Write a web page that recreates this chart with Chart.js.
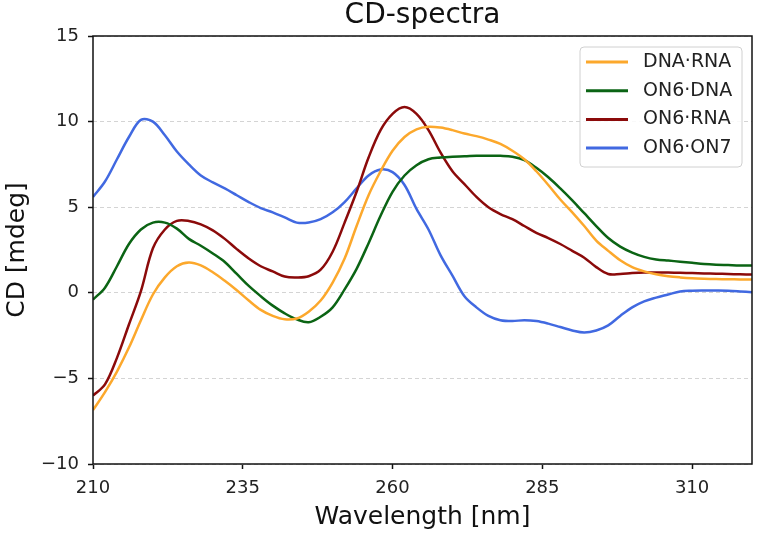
<!DOCTYPE html>
<html>
<head>
<meta charset="utf-8">
<script src="https://cdn.jsdelivr.net/npm/chart.js@4/dist/chart.umd.min.js"></script>
<style>
  html, body { margin: 0; padding: 0; background: #fff; }
  canvas { display: block; }
</style>
</head>
<body>
<canvas id="grafico" width="757" height="535"></canvas>
<script>
// wavelengths in nm (read every 2 nm)
const wavelengths = [210,212,214,216,218,220,222,224,226,228,230,232,234,236,238,240,242,244,246,248,
  250,252,254,256,258,260,262,264,266,268,270,272,274,276,278,280,282,284,286,288,
  290,292,294,296,298,300,302,304,306,308,310,312,314,316,318,320];

const dnaRna = [-6.85,-5.8,-4.6,-3.2,-1.6,-0.1,0.9,1.55,1.77,1.6,1.2,0.7,0.15,-0.45,-1.0,-1.35,-1.55,-1.5,-1.1,-0.45,
  0.6,2.0,3.9,5.7,7.1,8.3,9.1,9.55,9.7,9.65,9.5,9.3,9.15,8.95,8.7,8.3,7.8,7.1,6.3,5.45,
  4.7,3.9,3.05,2.45,1.9,1.5,1.25,1.08,0.97,0.9,0.85,0.82,0.8,0.79,0.78,0.77];

const on6Dna = [-0.4,0.3,1.55,2.85,3.7,4.1,4.1,3.75,3.15,2.75,2.3,1.8,1.1,0.4,-0.2,-0.75,-1.2,-1.55,-1.72,-1.4,
  -0.85,0.2,1.4,2.9,4.5,5.9,6.85,7.45,7.8,7.9,7.95,7.97,8.0,8.01,8.0,7.95,7.75,7.3,6.75,6.1,
  5.4,4.65,3.9,3.2,2.7,2.35,2.1,1.95,1.88,1.82,1.75,1.68,1.64,1.62,1.6,1.6];

const on6Rna = [-6.0,-5.35,-3.8,-1.85,0.1,2.6,3.7,4.2,4.2,4.0,3.65,3.15,2.55,2.0,1.55,1.25,0.95,0.9,0.97,1.35,
  2.4,4.1,5.9,7.9,9.5,10.45,10.85,10.45,9.5,8.2,7.1,6.35,5.6,5.0,4.6,4.3,3.9,3.5,3.2,2.85,
  2.45,2.05,1.5,1.1,1.1,1.15,1.18,1.18,1.18,1.17,1.15,1.13,1.12,1.1,1.08,1.07];

const on6On7 = [5.6,6.5,7.8,9.1,10.1,10.0,9.2,8.25,7.5,6.85,6.45,6.1,5.7,5.3,4.95,4.7,4.4,4.1,4.1,4.3,
  4.7,5.3,6.1,6.85,7.2,7.05,6.3,4.9,3.7,2.2,1.0,-0.2,-0.85,-1.35,-1.6,-1.65,-1.6,-1.65,-1.8,-2.0,
  -2.2,-2.32,-2.2,-1.9,-1.35,-0.85,-0.5,-0.28,-0.1,0.08,0.12,0.13,0.13,0.12,0.08,0.03];

const xTicks = [210, 235, 260, 285, 310];
const yTicks = [-10, -5, 0, 5, 10, 15];

const fonte = '"DejaVu Sans", sans-serif';

const pontos = (valores) => valores.map((v, i) => ({ x: wavelengths[i], y: v }));

const serie = (label, valores, cor) => ({
  label: label,
  data: pontos(valores),
  borderColor: cor,
  backgroundColor: cor,
  borderWidth: 2.5,
  pointRadius: 0,
  tension: 0.35,
  fill: false
});

// moldura preta em volta da area do grafico
const moldura = {
  id: 'moldura',
  afterDatasetsDraw(chart) {
    const { ctx, chartArea: a } = chart;
    ctx.save();
    ctx.strokeStyle = '#111';
    ctx.lineWidth = 1.5;
    ctx.strokeRect(a.left, a.top, a.right - a.left, a.bottom - a.top);
    ctx.restore();
  }
};

// legenda no estilo matplotlib (canto superior direito)
const legendaCaixa = {
  id: 'legendaCaixa',
  afterDraw(chart) {
    const { ctx, chartArea: a } = chart;
    const x = a.right - 172, y = a.top + 11, w = 162, h = 120;
    ctx.save();
    ctx.beginPath();
    ctx.roundRect(x, y, w, h, 4);
    ctx.fillStyle = 'rgba(255,255,255,0.85)';
    ctx.fill();
    ctx.strokeStyle = '#d0d0d0';
    ctx.lineWidth = 1;
    ctx.stroke();
    ctx.font = '19px ' + fonte;
    ctx.textBaseline = 'middle';
    chart.data.datasets.forEach((ds, i) => {
      const cy = y + 15 + i * 28.7;
      ctx.strokeStyle = ds.borderColor;
      ctx.lineWidth = 3;
      ctx.beginPath();
      ctx.moveTo(x + 6, cy);
      ctx.lineTo(x + 48, cy);
      ctx.stroke();
      ctx.fillStyle = '#222';
      ctx.fillText(ds.label, x + 63, cy);
    });
    ctx.restore();
  }
};

const ctx = document.getElementById('grafico').getContext('2d');
new Chart(ctx, {
  type: 'line',
  data: {
    datasets: [
      serie('DNA·RNA', dnaRna, '#fca82c'),
      serie('ON6·DNA', on6Dna, '#0b6414'),
      serie('ON6·RNA', on6Rna, '#8b0a0a'),
      serie('ON6·ON7', on6On7, '#4169e1')
    ]
  },
  options: {
    responsive: false,
    animation: false,
    devicePixelRatio: 1,
    layout: { padding: { top: 0, right: 5, bottom: 0, left: 0 } },
    plugins: {
      legend: { display: false },
      tooltip: { enabled: false },
      title: {
        display: true,
        text: 'CD-spectra',
        fullSize: false,
        color: '#111',
        font: { family: fonte, size: 28, weight: 'normal', lineHeight: 1 },
        padding: { top: 2, bottom: 6 }
      }
    },
    scales: {
      x: {
        type: 'linear',
        min: 210,
        max: 320,
        afterBuildTicks: (scale) => { scale.ticks = xTicks.map(v => ({ value: v })); },
        afterFit: (scale) => { scale.height = 71; },
        ticks: {
          color: '#222',
          padding: 9,
          maxRotation: 0,
          font: { family: fonte, size: 18 }
        },
        grid: {
          drawOnChartArea: false,
          drawTicks: true,
          tickLength: 5,
          tickWidth: 1.5,
          tickColor: '#111'
        },
        border: { display: false },
        title: {
          display: true,
          text: 'Wavelength [nm]',
          color: '#111',
          font: { family: fonte, size: 25 },
          padding: { top: 0, bottom: 3 }
        }
      },
      y: {
        min: -10,
        max: 15,
        afterBuildTicks: (scale) => { scale.ticks = yTicks.map(v => ({ value: v })); },
        afterFit: (scale) => { scale.width = 93; },
        ticks: {
          color: '#222',
          padding: 9,
          font: { family: fonte, size: 18 },
          callback: (v) => String(v).replace('-', '\u2212')
        },
        grid: {
          color: '#d4d4d4',
          lineWidth: 1,
          tickLength: 5,
          tickWidth: 1.5,
          tickColor: '#111'
        },
        border: { display: false, dash: [4, 3] },
        title: {
          display: true,
          text: 'CD [mdeg]',
          color: '#111',
          font: { family: fonte, size: 25 },
          padding: { top: 2, bottom: 0 }
        }
      }
    }
  },
  plugins: [moldura, legendaCaixa]
});
</script>
</body>
</html>
